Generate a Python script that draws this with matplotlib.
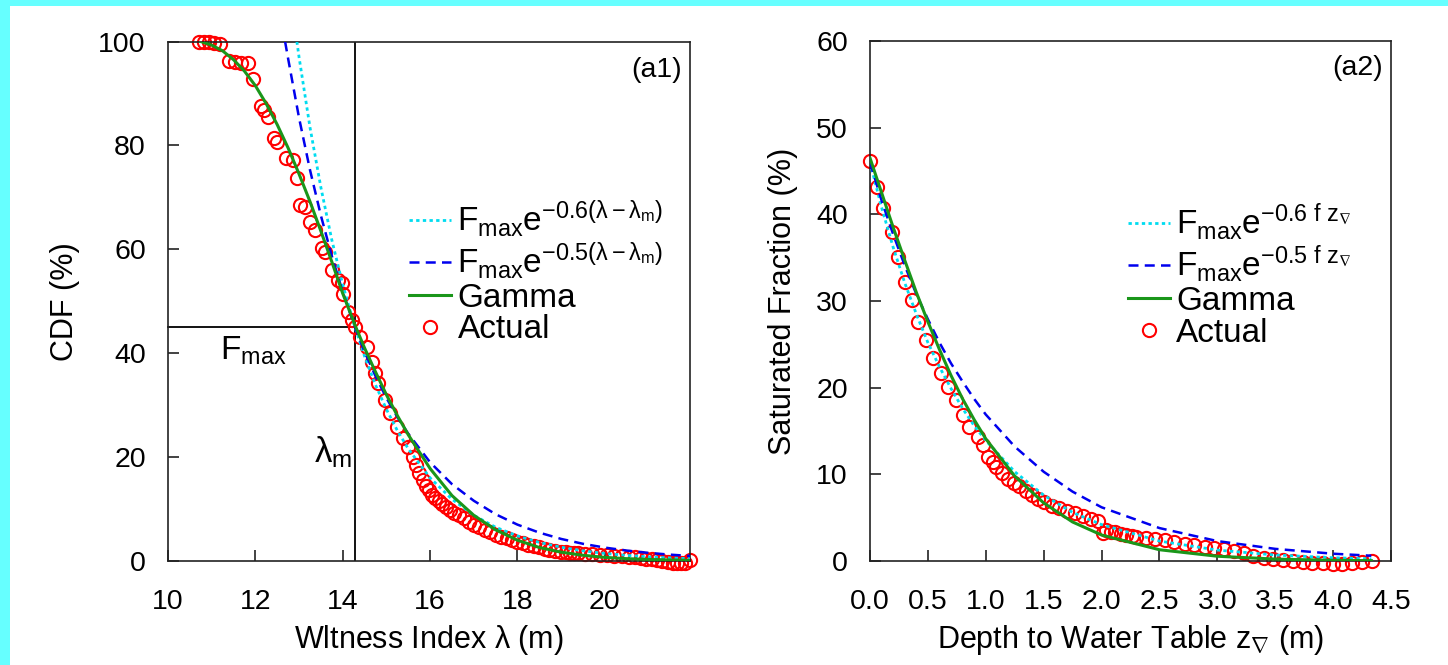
import numpy as np
import matplotlib
matplotlib.use('Agg')
import matplotlib.pyplot as plt
from matplotlib.patches import Rectangle

plt.rcParams['font.family'] = ['Liberation Sans', 'DejaVu Sans']
plt.rcParams['mathtext.fontset'] = 'custom'
plt.rcParams['mathtext.rm'] = 'Liberation Sans'
plt.rcParams['mathtext.it'] = 'Liberation Sans:italic'
plt.rcParams['mathtext.bf'] = 'Liberation Sans:bold'

# ---------------- Panel (a1) data ----------------
lam_m = 14.28
F_max1 = 45.0

a1_exp06_x = [12.95, 13.0, 13.25, 13.5, 13.75, 14.0, 14.25, 14.5, 14.75, 15.0, 15.25, 15.5,
              16.0, 16.5, 17.0, 17.5, 18.0, 18.5, 19.0, 19.5, 20.0, 20.5, 21.0, 21.5, 21.95]
a1_exp06_y = [100.0, 97.0, 83.5, 71.9, 61.8, 53.2, 45.8, 39.4, 33.9, 29.2, 25.1, 21.6,
              16.0, 11.9, 8.8, 6.5, 4.83, 3.58, 2.65, 1.96, 1.45, 1.08, 0.80, 0.59, 0.45]

a1_exp05_x = [12.68, 12.75, 13.0, 13.25, 13.5, 13.75, 14.0, 14.25, 14.5, 14.75, 15.0, 15.25, 15.5,
              16.0, 16.5, 17.0, 17.5, 18.0, 18.5, 19.0, 19.5, 20.0, 20.5, 21.0, 21.5, 21.95]
a1_exp05_y = [100.0, 96.7, 85.3, 75.3, 66.5, 58.7, 51.8, 45.7, 40.3, 35.6, 31.4, 27.7, 24.5,
              19.0, 14.8, 11.6, 9.0, 7.0, 5.46, 4.25, 3.31, 2.58, 2.01, 1.56, 1.22, 0.97]

a1_gamma_x = [10.75, 11.0, 11.25, 11.5, 11.75, 12.0, 12.25, 12.5, 12.75, 13.0, 13.25, 13.5, 13.75,
              14.0, 14.3, 14.5, 14.75, 15.0, 15.25, 15.5, 16.0, 16.5, 17.0, 17.5, 18.0, 18.5,
              19.0, 19.5, 20.0, 20.5, 21.0, 21.5, 21.95]
a1_gamma_y = [100.0, 99.3, 98.2, 96.5, 94.3, 91.5, 88.0, 84.0, 79.5, 74.5, 69.2, 63.5, 57.6,
              51.5, 45.0, 41.0, 36.4, 32.0, 28.0, 24.3, 17.8, 12.6, 8.8, 6.0, 4.0, 2.6,
              1.7, 1.1, 0.7, 0.45, 0.3, 0.2, 0.12]

a1_act_x = [10.70, 10.82, 10.93, 11.05, 11.20, 11.40, 11.53, 11.67, 11.83, 11.95, 12.13, 12.20,
            12.29, 12.43, 12.49, 12.70, 12.86, 12.95, 13.03, 13.13, 13.25, 13.36, 13.52, 13.59,
            13.75, 13.89, 13.98, 14.00, 14.12, 14.21, 14.28, 14.39, 14.55, 14.67, 14.74, 14.81,
            14.97, 15.08, 15.24, 15.38, 15.49, 15.61, 15.68, 15.75, 15.83, 15.90, 15.98, 16.05,
            16.12, 16.20, 16.28, 16.36, 16.45, 16.55, 16.66, 16.77, 16.88, 17.00, 17.12, 17.25,
            17.38, 17.50, 17.62, 17.75, 17.88, 18.00, 18.12, 18.24, 18.37, 18.50, 18.62, 18.73,
            18.86, 19.00, 19.10, 19.20, 19.30, 19.39, 19.55, 19.70, 19.88, 20.05, 20.22, 20.40,
            20.55, 20.70, 20.82, 20.95, 21.08, 21.20, 21.32, 21.45, 21.55, 21.65, 21.75, 21.83,
            21.95]
a1_act_y = [100.0, 100.0, 100.0, 99.8, 99.6, 96.3, 96.1, 95.9, 95.9, 92.7, 87.5, 86.9,
            85.4, 81.5, 80.7, 77.6, 77.1, 73.8, 68.6, 68.2, 65.3, 63.8, 60.3, 59.5,
            56.1, 54.1, 53.6, 51.3, 48.0, 46.4, 45.1, 43.2, 41.2, 38.3, 36.2, 34.3,
            31.0, 28.5, 25.8, 23.7, 22.0, 20.0, 18.4, 17.0, 15.6, 14.5, 13.6, 12.8,
            12.1, 11.5, 10.9, 10.4, 9.8, 9.3, 8.8, 8.3, 7.6, 7.0, 6.5, 6.0,
            5.5, 5.1, 4.7, 4.4, 4.0, 3.7, 3.4, 3.1, 2.9, 2.6, 2.3, 2.1,
            1.9, 1.8, 1.7, 1.6, 1.5, 1.5, 1.4, 1.3, 1.25, 1.2, 1.0, 0.9,
            0.85, 0.8, 0.6, 0.4, 0.3, 0.2, 0.0, -0.2, -0.3, -0.4, -0.4, -0.3,
            0.2]

# ---------------- Panel (a2) data ----------------
a2_exp06_x = [0.0, 0.1, 0.2, 0.3, 0.4, 0.5, 0.6, 0.7, 0.8, 0.9, 1.0, 1.25, 1.5, 1.75, 2.0,
              2.5, 3.0, 3.5, 4.0, 4.33]
a2_exp06_y = [46.0, 40.8, 36.2, 32.1, 28.5, 25.2, 22.4, 19.9, 17.6, 15.6, 13.9, 10.3, 7.6, 5.6, 4.2,
              2.3, 1.26, 0.69, 0.38, 0.25]

a2_exp05_x = [0.0, 0.1, 0.2, 0.3, 0.4, 0.5, 0.6, 0.7, 0.8, 0.9, 1.0, 1.25, 1.5, 1.75, 2.0,
              2.5, 3.0, 3.5, 4.0, 4.33]
a2_exp05_y = [46.0, 41.6, 37.7, 34.1, 30.8, 27.9, 25.2, 22.8, 20.7, 18.7, 16.9, 13.2, 10.3, 8.0, 6.2,
              3.8, 2.3, 1.4, 0.84, 0.61]

a2_gamma_x = [0.0, 0.1, 0.2, 0.3, 0.4, 0.5, 0.6, 0.7, 0.8, 0.9, 1.0, 1.25, 1.5, 1.75, 2.0,
              2.5, 3.0, 3.5, 4.0, 4.33]
a2_gamma_y = [46.5, 42.5, 38.5, 34.7, 31.0, 27.6, 24.4, 21.4, 18.7, 16.3, 14.1, 9.8, 6.7, 4.5, 3.0,
              1.3, 0.55, 0.22, 0.08, 0.04]

a2_act_x = [0.0, 0.058, 0.115, 0.187, 0.245, 0.302, 0.36, 0.417, 0.484, 0.547, 0.61, 0.676,
            0.743, 0.806, 0.858, 0.936, 0.98, 1.02, 1.06, 1.09, 1.14, 1.19, 1.24, 1.29, 1.35,
            1.40, 1.45, 1.50, 1.57, 1.63, 1.70, 1.77, 1.84, 1.91, 1.97, 2.01, 2.04, 2.08, 2.12,
            2.17, 2.21, 2.26, 2.30, 2.38, 2.46, 2.55, 2.63, 2.72, 2.80, 2.89, 2.97, 3.06, 3.14,
            3.23, 3.31, 3.40, 3.48, 3.57, 3.65, 3.74, 3.82, 3.91, 4.00, 4.08, 4.16, 4.25, 4.34]
a2_act_y = [46.2, 43.2, 40.7, 38.0, 35.1, 32.2, 30.1, 27.6, 25.5, 23.4, 21.7, 20.1,
            18.6, 16.8, 15.5, 14.3, 13.4, 12.0, 11.4, 10.9, 10.2, 9.5, 9.0, 8.6, 8.1,
            7.6, 7.2, 6.8, 6.4, 6.1, 5.8, 5.5, 5.2, 4.9, 4.6, 3.2, 3.6, 3.4, 3.3,
            3.1, 3.0, 2.9, 2.8, 2.6, 2.5, 2.4, 2.2, 2.0, 1.8, 1.65, 1.5, 1.35, 1.1,
            0.9, 0.6, 0.3, 0.2, 0.1, 0.0, -0.1, -0.2, -0.2, -0.3, -0.3, -0.2, -0.1, 0.0]

a1_xticks = [10, 12, 14, 16, 18, 20]
a1_yticks = [0, 20, 40, 60, 80, 100]
a2_xticks = [0.0, 0.5, 1.0, 1.5, 2.0, 2.5, 3.0, 3.5, 4.0, 4.5]
a2_yticks = [0, 10, 20, 30, 40, 50, 60]

# ---------------- styles ----------------
C_CYAN = '#00dcf0'
C_BLUE = '#0000ee'
C_GREEN = '#1a961a'
C_RED = '#ff0000'
TICK_FS = 20.5
LABEL_FS = 22
LEG_FS = 24

W, H = 1448, 665
fig = plt.figure(figsize=(W / 100, H / 100), dpi=100, facecolor='#66ffff')
fig.patches.append(Rectangle((10 / W, 0), 1 - 10 / W, 1 - 6 / H, transform=fig.transFigure,
                             facecolor='white', edgecolor='none', zorder=-1))


def make_axes(left_px, right_px, top_px, bottom_px):
    ax = fig.add_axes([left_px / W, 1 - bottom_px / H, (right_px - left_px) / W,
                       (bottom_px - top_px) / H])
    for s in ax.spines.values():
        s.set_linewidth(1.2)
        s.set_color('#222222')
    ax.tick_params(direction='in', length=8, width=1.2, labelsize=TICK_FS, color='#222222',
                   top=False, right=False)
    ax.tick_params(axis='x', pad=20)
    ax.tick_params(axis='y', pad=16)
    return ax


def style_curves(ax, ex06, ex05, gam, act, lab06, lab05):
    ax.plot(act[0], act[1], linestyle='none', marker='o', markersize=9.5, markerfacecolor='none',
            markeredgecolor=C_RED, markeredgewidth=1.5, clip_on=False, zorder=2, label='Actual')
    ax.plot(ex06[0], ex06[1], color=C_CYAN, lw=2.0, linestyle=(0, (1.2, 1.2)), zorder=3,
            label=lab06)
    ax.plot(ex05[0], ex05[1], color=C_BLUE, lw=1.8, linestyle=(0, (4, 2.5)), zorder=3,
            label=lab05)
    ax.plot(gam[0], gam[1], color=C_GREEN, lw=2.2, zorder=3, label='Gamma')
    h, lbl = ax.get_legend_handles_labels()
    return [h[1], h[2], h[3], h[0]], [lbl[1], lbl[2], lbl[3], lbl[0]]


# ---------------- Panel a1 ----------------
ax1 = make_axes(168, 690, 41.5, 561)
ax1.set_xlim(10, 21.95)
ax1.set_ylim(0, 100)
ax1.set_xticks(a1_xticks)
ax1.set_yticks(a1_yticks)
ax1.axvline(lam_m, color='black', lw=1.3, zorder=1)
ax1.plot([10, lam_m], [F_max1, F_max1], color='black', lw=1.3, zorder=1, clip_on=False)
hs, ls = style_curves(ax1, (a1_exp06_x, a1_exp06_y), (a1_exp05_x, a1_exp05_y),
                      (a1_gamma_x, a1_gamma_y), (a1_act_x, a1_act_y),
                      r'$\mathregular{F_{max}e^{-0.6(\lambda-\lambda_m)}}$',
                      r'$\mathregular{F_{max}e^{-0.5(\lambda-\lambda_m)}}$')
ax1.legend(hs, ls, loc='upper left', bbox_to_anchor=(0.462, 0.697), frameon=False,
           fontsize=LEG_FS, handlelength=1.25, handletextpad=0.2, labelspacing=0.02,
           borderpad=0, borderaxespad=0)
ax1.text(11.2, 40.5, r'$\mathregular{F_{max}}$', fontsize=24, ha='left', va='center')
ax1.text(14.22, 21.0, r'$\mathregular{\lambda_m}$', fontsize=25, ha='right', va='center')
ax1.text(0.985, 0.945, '(a1)', transform=ax1.transAxes, fontsize=20.5, ha='right', va='center')
ax1.set_ylabel('CDF (%)', fontsize=LABEL_FS, labelpad=13)
ax1.set_xlabel(r'Wltness Index $\mathregular{\lambda}$ (m)', fontsize=LABEL_FS, labelpad=6)

# ---------------- Panel a2 ----------------
ax2 = make_axes(870, 1391, 41, 561)
ax2.set_xlim(0, 4.5)
ax2.set_ylim(0, 60)
ax2.set_xticks(a2_xticks)
ax2.set_xticklabels([f'{v:.1f}' for v in a2_xticks])
ax2.set_yticks(a2_yticks)
hs, ls = style_curves(ax2, (a2_exp06_x, a2_exp06_y), (a2_exp05_x, a2_exp05_y),
                      (a2_gamma_x, a2_gamma_y), (a2_act_x, a2_act_y),
                      r'$\mathregular{F_{max}e^{-0.6\ f\ z_{\nabla}}}$',
                      r'$\mathregular{F_{max}e^{-0.5\ f\ z_{\nabla}}}$')
ax2.legend(hs, ls, loc='upper left', bbox_to_anchor=(0.495, 0.69), frameon=False,
           fontsize=LEG_FS, handlelength=1.25, handletextpad=0.2, labelspacing=0.02,
           borderpad=0, borderaxespad=0)
ax2.text(0.985, 0.948, '(a2)', transform=ax2.transAxes, fontsize=20.5, ha='right', va='center')
ax2.set_ylabel('Saturated Fraction (%)', fontsize=LABEL_FS, labelpad=13)
ax2.set_xlabel(r'Depth to Water Table z$_{\nabla}$ (m)', fontsize=LABEL_FS, labelpad=6)

fig.savefig('out.png', dpi=100, facecolor=fig.get_facecolor())
